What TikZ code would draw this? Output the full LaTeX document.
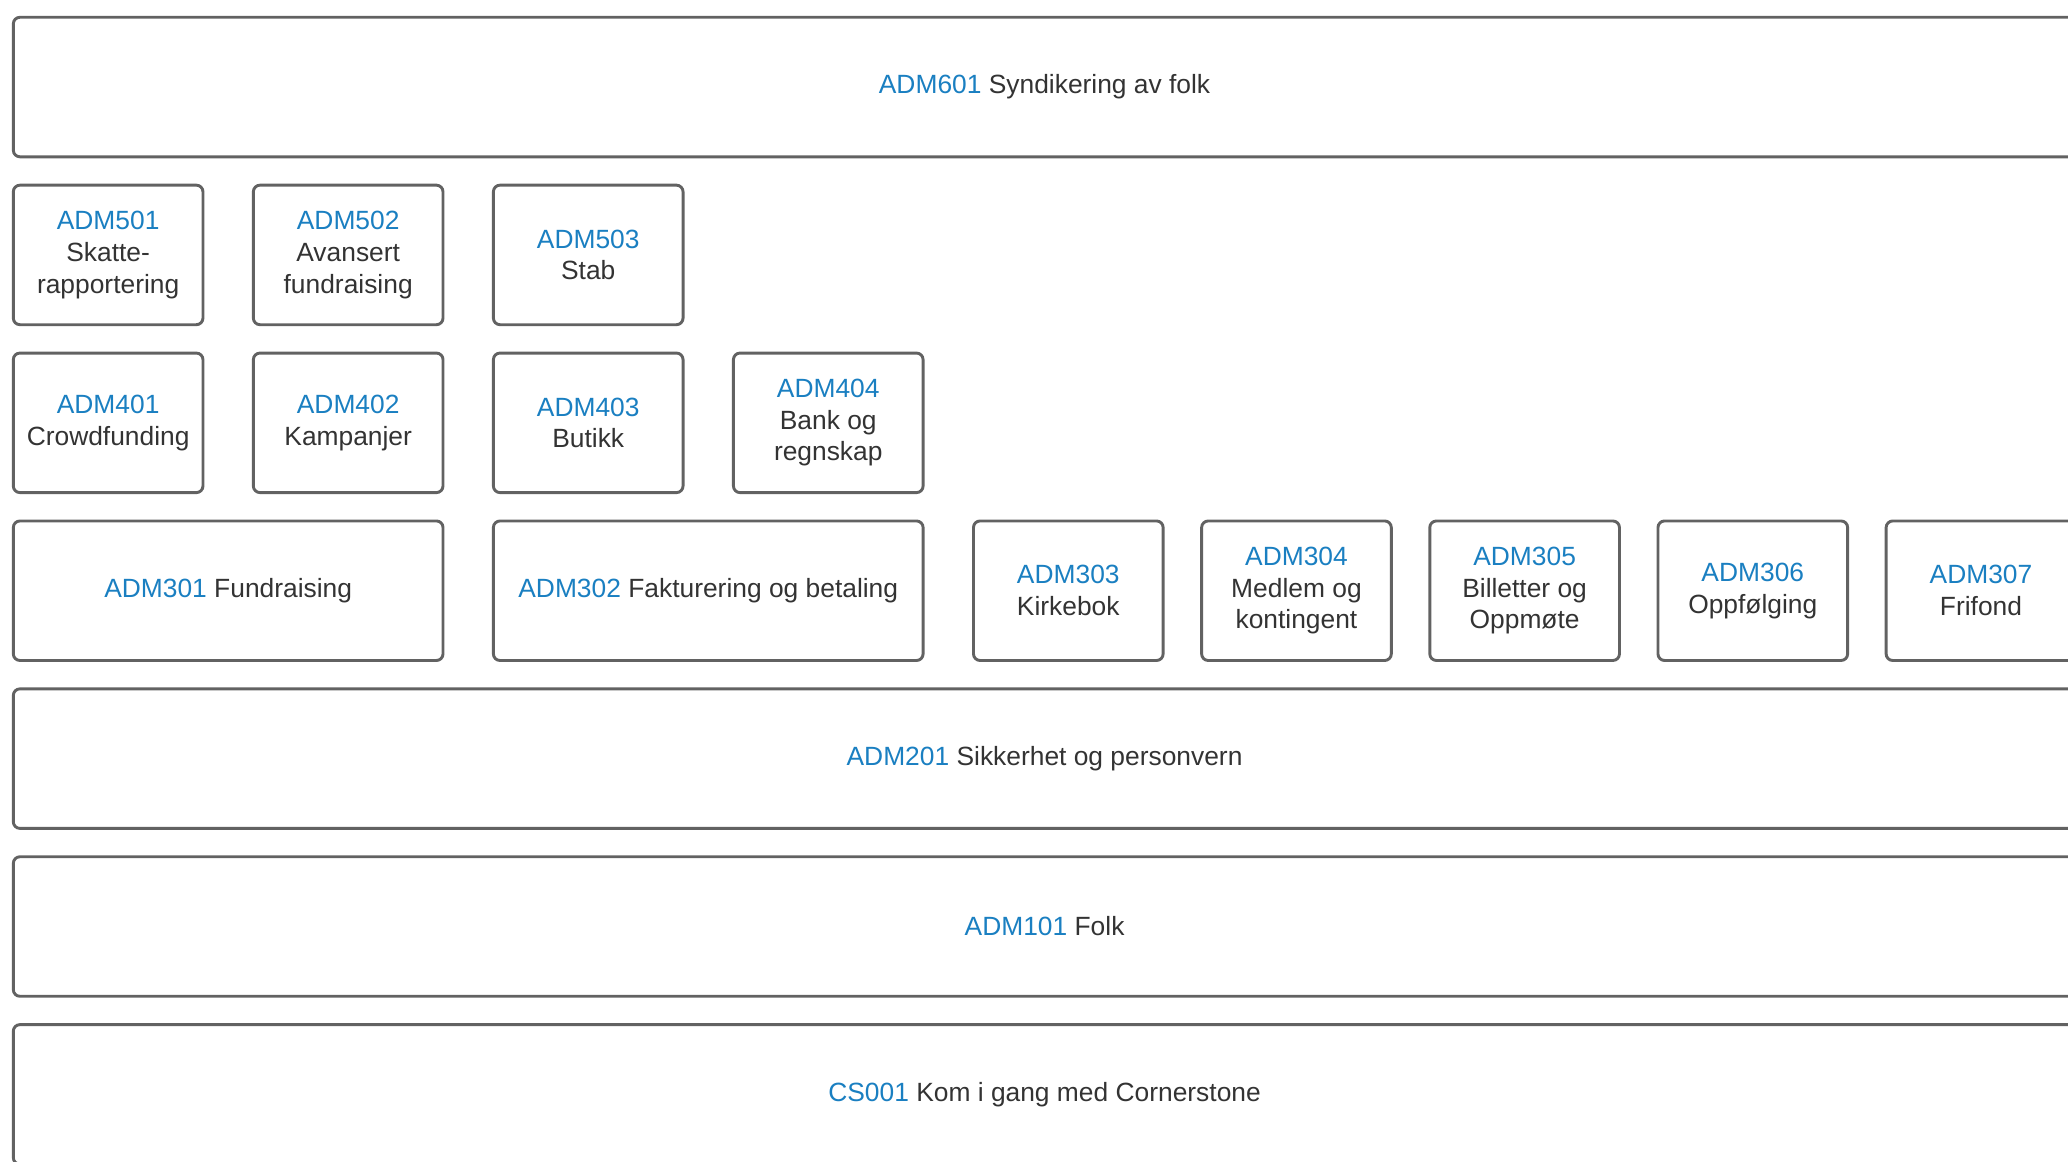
\documentclass[tikz,border=0pt]{standalone}
\usepackage{fontspec}
\setmainfont{Liberation Sans}
\usetikzlibrary{positioning}
\definecolor{codeblue}{HTML}{1A7FC1}
\definecolor{textgray}{HTML}{333333}
\definecolor{framegray}{HTML}{626262}
\newcommand{\code}[1]{\textcolor{codeblue}{#1}}

\begin{document}
\begin{tikzpicture}[
  x=0.5pt, y=-0.5pt,
  course/.style={draw=framegray, line width=1.1pt, rounded corners=2.5pt,
    minimum width=71.9pt, minimum height=52.9pt, align=center, text=textgray,
    font=\fontsize{10}{12}\selectfont, inner sep=1pt},
  wide/.style={course, minimum width=162.9pt},
  layer/.style={course, minimum width=781.9pt},
  node distance=9.65pt and 18pt
]

\clip (0,0) rectangle (1568,881);

% Top layer
\node[layer, anchor=north west] (ADM601) at (9,12) {\code{ADM601} Syndikering av folk};

% Level 5
\node[course, below=of ADM601.south west, anchor=north west] (ADM501) {\code{ADM501}\\Skatte-\\rapportering};
\node[course, right=of ADM501] (ADM502) {\code{ADM502}\\Avansert\\fundraising};
\node[course, right=of ADM502] (ADM503) {\code{ADM503}\\Stab};

% Level 4
\node[course, below=of ADM501] (ADM401) {\code{ADM401}\\Crowdfunding};
\node[course, right=of ADM401] (ADM402) {\code{ADM402}\\Kampanjer};
\node[course, right=of ADM402] (ADM403) {\code{ADM403}\\Butikk};
\node[course, right=of ADM403] (ADM404) {\code{ADM404}\\Bank og\\regnskap};

% Level 3
\node[wide, below=of ADM401.south west, anchor=north west] (ADM301) {\code{ADM301} Fundraising};
\node[wide, right=of ADM301] (ADM302) {\code{ADM302} Fakturering og betaling};
\node[course, right=of ADM302] (ADM303) {\code{ADM303}\\Kirkebok};
\node[course, right=13.5pt of ADM303] (ADM304) {\code{ADM304}\\Medlem og\\kontingent};
\node[course, right=13.5pt of ADM304] (ADM305) {\code{ADM305}\\Billetter og\\Oppmøte};
\node[course, right=13.5pt of ADM305] (ADM306) {\code{ADM306}\\Oppfølging};
\node[course, right=13.5pt of ADM306] (ADM307) {\code{ADM307}\\Frifond};

% Base layers
\node[layer, below=of ADM301.south west, anchor=north west] (ADM201) {\code{ADM201} Sikkerhet og personvern};
\node[layer, below=of ADM201] (ADM101) {\code{ADM101} Folk};
\node[layer, below=of ADM101] (CS001) {\code{CS001} Kom i gang med Cornerstone};

\end{tikzpicture}
\end{document}
